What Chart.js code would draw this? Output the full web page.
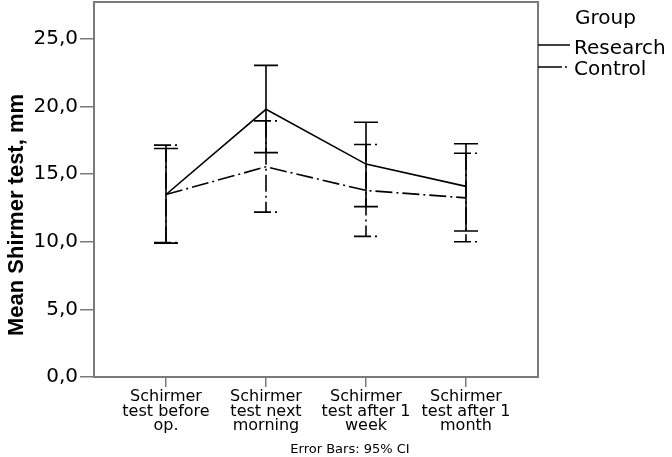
<!DOCTYPE html>
<html lang="en">
<head>
  <meta charset="UTF-8">
  <title>Mean Shirmer test</title>
  <style>
    body { margin: 0; background: #fff; }
  </style>
</head>
<body>
  <canvas id="myChart" width="672" height="457"></canvas>

  <script src="https://cdn.jsdelivr.net/npm/chart.js"></script>
  <script>
    // values (means and 95% CI bounds)
    const categories = [
      ['Schirmer', 'test before', 'op.'],
      ['Schirmer', 'test next', 'morning'],
      ['Schirmer', 'test after 1', 'week'],
      ['Schirmer', 'test after 1', 'month']
    ];
    const researchMean = [13.5, 19.8, 15.75, 14.1];
    const researchLow = [9.9, 16.6, 12.6, 10.8];
    const researchHigh = [16.9, 23.05, 18.85, 17.25];
    const controlMean = [13.5, 15.55, 13.8, 13.25];
    const controlLow = [9.95, 12.2, 10.4, 10.0];
    const controlHigh = [17.15, 18.95, 17.2, 16.55];
    const yTickValues = [0, 5, 10, 15, 20, 25];

    const DASH_DOT = [17, 4, 2, 4];
    const FRAME = '#7a7a7a';

    const toPoints = arr => arr.map((v, i) => ({ x: i, y: v }));

    // error bars, frame, legend and the loose texts
    const extras = {
      id: 'extras',
      beforeDatasetsDraw(chart) {
        const { ctx, chartArea: a } = chart;
        ctx.save();
        ctx.strokeStyle = FRAME;
        ctx.lineWidth = 2;
        ctx.strokeRect(a.left, a.top, a.right - a.left, a.bottom - a.top);
        ctx.restore();
      },
      afterDatasetsDraw(chart) {
        const { ctx, scales: { x, y } } = chart;
        const bars = [
          { low: controlLow, high: controlHigh, dash: DASH_DOT },
          { low: researchLow, high: researchHigh, dash: [] }
        ];
        ctx.save();
        ctx.strokeStyle = '#000';
        ctx.lineWidth = 1.6;
        bars.forEach(b => {
          ctx.setLineDash(b.dash);
          b.low.forEach((lo, i) => {
            const px = x.getPixelForValue(i);
            const top = y.getPixelForValue(b.high[i]);
            const bot = y.getPixelForValue(lo);
            ctx.beginPath();
            ctx.moveTo(px, top); ctx.lineTo(px, bot);
            ctx.moveTo(px - 12, top); ctx.lineTo(px + 12, top);
            ctx.moveTo(px - 12, bot); ctx.lineTo(px + 12, bot);
            ctx.stroke();
          });
        });
        ctx.restore();
      },
      afterDraw(chart) {
        const { ctx } = chart;
        ctx.save();
        ctx.fillStyle = '#000';

        // y axis title
        ctx.save();
        ctx.translate(23, 215);
        ctx.rotate(-Math.PI / 2);
        ctx.font = 'bold 22px "Liberation Sans", Arial, sans-serif';
        ctx.textAlign = 'center';
        ctx.textBaseline = 'alphabetic';
        ctx.fillText('Mean Shirmer test, mm', 0, 0);
        ctx.restore();

        // legend
        ctx.font = '20px "DejaVu Sans", sans-serif';
        ctx.textAlign = 'left';
        ctx.textBaseline = 'alphabetic';
        ctx.fillText('Group', 575, 24);
        ctx.fillText('Research', 574, 54);
        ctx.fillText('Control', 574, 75);
        ctx.strokeStyle = '#000';
        ctx.lineWidth = 1.5;
        ctx.beginPath();
        ctx.moveTo(538, 45); ctx.lineTo(570, 45);
        ctx.stroke();
        ctx.setLineDash([24, 3, 2, 10]);
        ctx.beginPath();
        ctx.moveTo(538, 67); ctx.lineTo(570, 67);
        ctx.stroke();
        ctx.setLineDash([]);

        // footnote
        ctx.font = '13px "DejaVu Sans", sans-serif';
        ctx.textAlign = 'center';
        ctx.fillText('Error Bars: 95% CI', 350, 453);
        ctx.restore();
      }
    };

    Chart.defaults.font.family = '"DejaVu Sans", sans-serif';
    Chart.defaults.color = '#000';

    const ctx = document.getElementById('myChart');
    const myChart = new Chart(ctx, {
      type: 'line',
      data: {
        datasets: [
          {
            label: 'Research',
            data: toPoints(researchMean),
            borderColor: '#000',
            borderWidth: 1.6,
            pointRadius: 0,
            tension: 0,
            fill: false
          },
          {
            label: 'Control',
            data: toPoints(controlMean),
            borderColor: '#000',
            borderWidth: 1.6,
            borderDash: DASH_DOT,
            pointRadius: 0,
            tension: 0,
            fill: false
          }
        ]
      },
      options: {
        responsive: false,
        animation: false,
        layout: { padding: { left: 30, top: 2, right: 134, bottom: 10 } },
        plugins: {
          legend: { display: false },
          tooltip: { enabled: false }
        },
        scales: {
          x: {
            type: 'linear',
            min: -0.72,
            max: 3.72,
            afterBuildTicks: axis => { axis.ticks = categories.map((c, i) => ({ value: i })); },
            afterFit: s => { s.height = 70; s.paddingLeft = 0; s.paddingRight = 0; },
            border: { display: false },
            grid: { drawOnChartArea: false, tickLength: 10, color: FRAME, lineWidth: 1.5 },
            ticks: {
              autoSkip: false,
              maxRotation: 0,
              padding: 3,
              font: { size: 16, lineHeight: 0.9 },
              callback: v => categories[v]
            }
          },
          y: {
            min: 0,
            max: 27.74,
            afterBuildTicks: axis => { axis.ticks = yTickValues.map(v => ({ value: v })); },
            afterFit: s => { s.width = 64; s.paddingTop = 0; s.paddingBottom = 0; },
            border: { display: false },
            grid: { drawOnChartArea: false, tickLength: 14, color: FRAME, lineWidth: 1.5 },
            ticks: {
              padding: 2,
              font: { size: 20 },
              callback: v => v.toFixed(1).replace('.', ',')
            }
          }
        }
      },
      plugins: [extras]
    });
  </script>
</body>
</html>
